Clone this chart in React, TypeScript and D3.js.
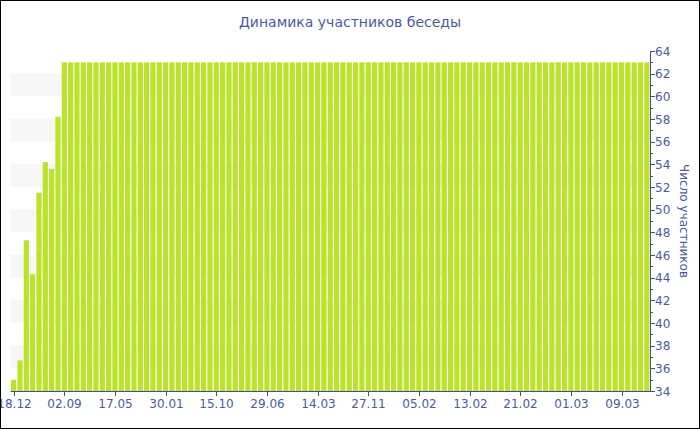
import React from "react";
import * as d3 from "d3";

const title = "Динамика участников беседы";
const yAxisTitle = "Число участников";

// participant count per period (101 periods)
const values: number[] = [
  35.0, 36.7, 47.3, 44.3, 51.5, 54.2, 53.6, 58.2,
  63, 63, 63, 63, 63, 63, 63, 63, 63, 63,
  63, 63, 63, 63, 63, 63, 63, 63, 63, 63,
  63, 63, 63, 63, 63, 63, 63, 63, 63, 63,
  63, 63, 63, 63, 63, 63, 63, 63, 63, 63,
  63, 63, 63, 63, 63, 63, 63, 63, 63, 63,
  63, 63, 63, 63, 63, 63, 63, 63, 63, 63,
  63, 63, 63, 63, 63, 63, 63, 63, 63, 63,
  63, 63, 63, 63, 63, 63, 63, 63, 63, 63,
  63, 63, 63, 63, 63, 63, 63, 63, 63, 63,
  63, 63, 63,
];

// x-axis labels and the period index they sit under
const tickLabels = [
  "18.12", "02.09", "17.05", "30.01", "15.10", "29.06", "14.03",
  "27.11", "05.02", "13.02", "21.02", "01.03", "09.03",
];
const tickIndices = [0, 8, 16, 24, 32, 40, 48, 56, 64, 72, 80, 88, 96];

const yMin = 34;
const yMax = 64;
const bandStarts = [36, 40, 44, 48, 52, 56, 60];

const W = 700;
const H = 430;
const left = 10.5;
const right = 650;
const top = 51;
const bottom = 391;

const textColor = "#4a5aa0";
const axisColor = "#3e4f96";
const barColor = "#bde22c";
const font = "DejaVu Sans, Verdana, sans-serif";

export default function App() {
  const idx = values.map((_, i) => i);
  const x = d3
    .scaleBand<number>()
    .domain(idx)
    .range([left, right])
    .paddingInner(0.18)
    .paddingOuter(0.09);
  const y = d3.scaleLinear().domain([yMin, yMax]).range([bottom, top]);
  const yMajor = d3.range(yMin, yMax + 1, 2);
  const yMinor = d3.range(yMin + 1, yMax, 2);

  return (
    <svg
      width={W}
      height={H}
      style={{ position: "absolute", left: 0, top: 0, background: "#fff" }}
      fontFamily={font}
    >
      <rect x={0} y={0} width={W} height={H} fill="#fff" />
      {bandStarts.map((b) => (
        <rect
          key={b}
          x={left}
          width={right - left}
          y={y(b + 2)}
          height={y(b) - y(b + 2)}
          fill="#f7f7f7"
        />
      ))}
      {values.map((v, i) => (
        <rect
          key={i}
          x={x(i)}
          width={x.bandwidth()}
          y={y(v)}
          height={bottom - y(v)}
          fill={barColor}
        />
      ))}
      {/* x axis */}
      <line x1={left} x2={right} y1={bottom + 0.5} y2={bottom + 0.5} stroke={axisColor} strokeWidth={1} />
      {tickIndices.map((ti, k) => {
        const cx = Math.round((x(ti) as number) + x.bandwidth() / 2) + 0.5;
        return (
          <g key={ti}>
            <line x1={cx} x2={cx} y1={bottom} y2={bottom + 5} stroke={axisColor} />
            <text
              x={cx}
              y={bottom + 17}
              textAnchor="middle"
              fontSize={12}
              fill={textColor}
            >
              {tickLabels[k]}
            </text>
          </g>
        );
      })}
      {/* y axis on right */}
      <line x1={right + 0.5} x2={right + 0.5} y1={top} y2={bottom + 1} stroke={axisColor} />
      {yMajor.map((t) => (
        <g key={t}>
          <line
            x1={right}
            x2={right + 5}
            y1={Math.round(y(t)) + 0.5}
            y2={Math.round(y(t)) + 0.5}
            stroke={axisColor}
          />
          <text
            x={right + 5}
            y={y(t) + 4.5}
            fontSize={12}
            fill={textColor}
          >
            {t}
          </text>
        </g>
      ))}
      {yMinor.map((t) => (
        <line
          key={t}
          x1={right}
          x2={right + 3}
          y1={Math.round(y(t)) + 0.5}
          y2={Math.round(y(t)) + 0.5}
          stroke={axisColor}
        />
      ))}
      <text
        transform={`translate(680, ${(top + bottom) / 2}) rotate(90)`}
        textAnchor="middle"
        fontSize={12}
        fill={textColor}
      >
        {yAxisTitle}
      </text>
      <text x={W / 2} y={27} textAnchor="middle" fontSize={14} fill={textColor}>
        {title}
      </text>
      <rect x={0.5} y={0.5} width={W - 1} height={428} fill="none" stroke="#000" strokeWidth={1} />
    </svg>
  );
}
